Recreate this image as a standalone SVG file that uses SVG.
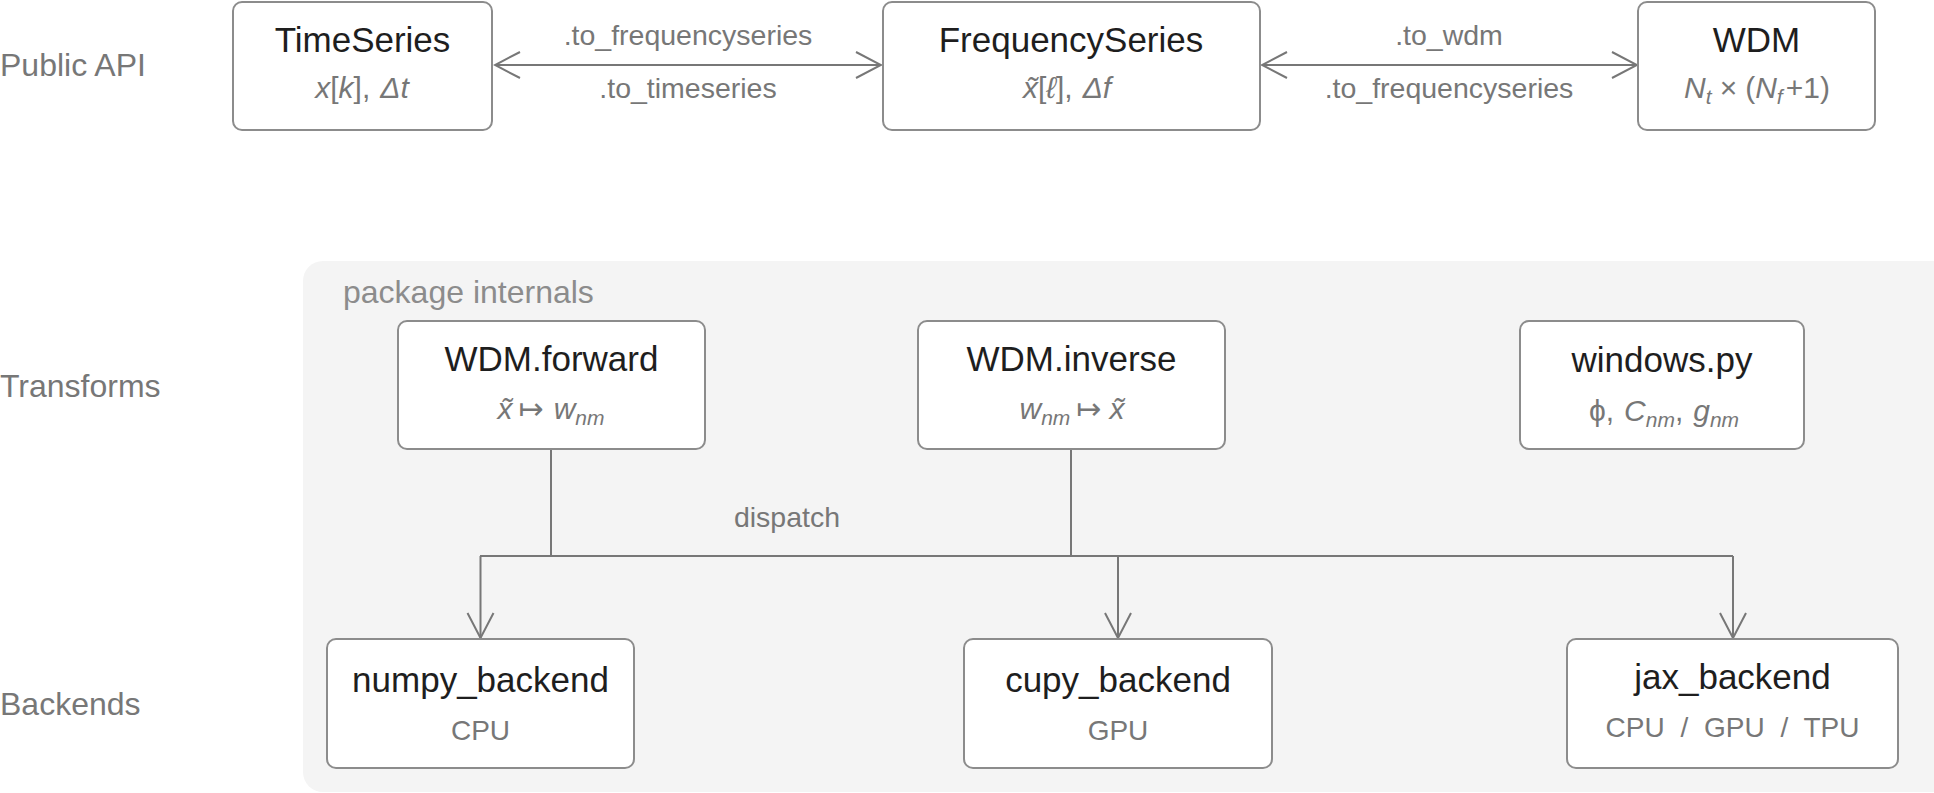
<svg xmlns="http://www.w3.org/2000/svg" width="1934" height="793" viewBox="0 0 1934 793">
<style>
.bg{fill:#ffffff}
.panel{fill:#f4f4f4}
.box{fill:#ffffff;stroke:#8c8c8c;stroke-width:2}
.title{font-family:"Liberation Sans",Arial,sans-serif;font-size:35px;fill:#1e1e1e;text-anchor:middle}
.sub{font-family:"Liberation Sans","DejaVu Sans",sans-serif;font-size:28px;fill:#777777;text-anchor:middle}
.msub{font-family:"Liberation Sans","DejaVu Sans",sans-serif;font-size:30px;fill:#777777;text-anchor:middle}
.math{font-style:italic}
.sb{font-style:italic;font-size:21px}
.lane{font-family:"Liberation Sans",Arial,sans-serif;font-size:32px;fill:#777777}
.pkg{font-family:"Liberation Sans",Arial,sans-serif;font-size:32px;fill:#8c8c8c}
.lbl{font-family:"Liberation Sans",Arial,sans-serif;font-size:28.5px;fill:#777777;text-anchor:middle}
.conn{fill:none;stroke:#777777;stroke-width:2}
</style>
<defs>
<marker id="arr" markerUnits="userSpaceOnUse" markerWidth="28" markerHeight="30" viewBox="0 0 28 30" refX="26" refY="15" orient="auto-start-reverse">
<path d="M1,2 L26,15 L1,28" fill="none" stroke="#777777" stroke-width="2"/>
</marker>
</defs>
<rect class="bg" x="0" y="0" width="1934" height="793"/>
<rect class="panel" x="303" y="261" width="1650" height="531" rx="20"/>
<text class="pkg" x="343" y="303">package internals</text>

<g id="lanes">
<text class="lane" x="0" y="76">Public API</text>
<text class="lane" x="0" y="397">Transforms</text>
<text class="lane" x="0" y="715">Backends</text>
</g>

<g id="connectors">
<line class="conn" x1="495" y1="65" x2="881" y2="65" marker-start="url(#arr)" marker-end="url(#arr)"/>
<text class="lbl" x="688" y="45">.to_frequencyseries</text>
<text class="lbl" x="688" y="98">.to_timeseries</text>
<line class="conn" x1="1262" y1="65" x2="1637" y2="65" marker-start="url(#arr)" marker-end="url(#arr)"/>
<text class="lbl" x="1449" y="45">.to_wdm</text>
<text class="lbl" x="1449" y="98">.to_frequencyseries</text>
<path class="conn" d="M551,450 V556"/>
<path class="conn" d="M1071,450 V556"/>
<path class="conn" d="M480,556 H1733"/>
<path class="conn" d="M480.5,556 V638" marker-end="url(#arr)"/>
<path class="conn" d="M1118,556 V638" marker-end="url(#arr)"/>
<path class="conn" d="M1733,556 V638" marker-end="url(#arr)"/>
<text class="lbl" x="787" y="527">dispatch</text>
</g>

<g id="node-timeseries">
<rect class="box" x="233" y="2" width="259" height="128" rx="9"/>
<text class="title" x="362.5" y="52">TimeSeries</text>
<text class="msub" x="362" y="98"><tspan class="math">x</tspan>[<tspan class="math">k</tspan>],<tspan class="math" dx="10">Δt</tspan></text>
</g>

<g id="node-frequencyseries">
<rect class="box" x="883" y="2" width="377" height="128" rx="9"/>
<text class="title" x="1071" y="52">FrequencySeries</text>
<text class="msub" x="1067" y="98"><tspan class="math">x̃</tspan>[<tspan class="math">ℓ</tspan>],<tspan class="math" dx="10">Δf</tspan></text>
</g>

<g id="node-wdm">
<rect class="box" x="1638" y="2" width="237" height="128" rx="9"/>
<text class="title" x="1756.5" y="52">WDM</text>
<text class="msub" x="1757" y="98"><tspan class="math">N</tspan><tspan class="sb" dy="6">t</tspan><tspan dy="-6" dx="8">×</tspan><tspan dx="8">(</tspan><tspan class="math">N</tspan><tspan class="sb" dy="6">f</tspan><tspan dy="-6" dx="3">+1)</tspan></text>
</g>

<g id="node-forward">
<rect class="box" x="398" y="321" width="307" height="128" rx="9"/>
<text class="title" x="551.5" y="371">WDM.forward</text>
<text class="msub" x="551" y="419"><tspan class="math">x̃</tspan><tspan dx="6">↦</tspan><tspan class="math" dx="10">w</tspan><tspan class="sb" dy="6">nm</tspan></text>
</g>

<g id="node-inverse">
<rect class="box" x="918" y="321" width="307" height="128" rx="9"/>
<text class="title" x="1071.5" y="371">WDM.inverse</text>
<text class="msub" x="1072" y="419"><tspan class="math">w</tspan><tspan class="sb" dy="6">nm</tspan><tspan dy="-6" dx="6">↦</tspan><tspan class="math" dx="8">x̃</tspan></text>
</g>

<g id="node-windows">
<rect class="box" x="1520" y="321" width="284" height="128" rx="9"/>
<text class="title" x="1662" y="372">windows.py</text>
<text class="msub" x="1664" y="421" font-family="Liberation Serif, serif"><tspan>ϕ,</tspan><tspan class="math" dx="10">C</tspan><tspan class="sb" dy="6">nm</tspan><tspan dy="-6">,</tspan><tspan class="math" dx="10">g</tspan><tspan class="sb" dy="6">nm</tspan></text>
</g>

<g id="node-numpy">
<rect class="box" x="327" y="639" width="307" height="129" rx="9"/>
<text class="title" x="480.5" y="692">numpy_backend</text>
<text class="sub" x="480.5" y="740">CPU</text>
</g>

<g id="node-cupy">
<rect class="box" x="964" y="639" width="308" height="129" rx="9"/>
<text class="title" x="1118" y="692">cupy_backend</text>
<text class="sub" x="1118" y="740">GPU</text>
</g>

<g id="node-jax">
<rect class="box" x="1567" y="639" width="331" height="129" rx="9"/>
<text class="title" x="1732.5" y="689">jax_backend</text>
<text class="sub" x="1732.5" y="737" word-spacing="8">CPU / GPU / TPU</text>
</g>
</svg>
